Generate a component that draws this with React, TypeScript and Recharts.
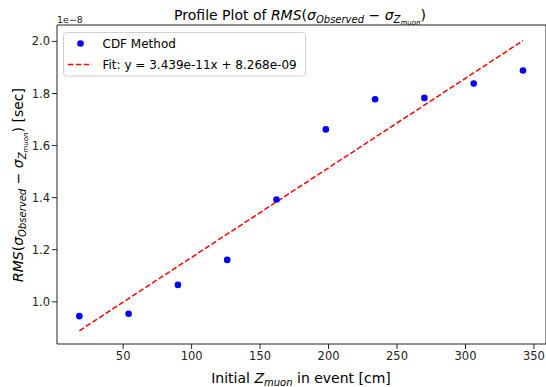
import React from 'react';
import {
  ComposedChart,
  Scatter,
  Line,
  XAxis,
  YAxis,
  ReferenceArea,
} from 'recharts';

// Profile bins along the initial muon Z position [cm]
const zPositions = [18, 54, 90, 126, 162, 198, 234, 270, 306, 342];
// RMS of the timing residual per bin, in units of 1e-8 s
const rmsValues = [0.945, 0.954, 1.065, 1.161, 1.393, 1.662, 1.778, 1.783, 1.838, 1.888];

// Linear fit result (seconds per cm, seconds)
const fitSlope = 3.439e-11;
const fitIntercept = 8.268e-9;

const xTicks = [50, 100, 150, 200, 250, 300, 350];
const yTicks = [1.0, 1.2, 1.4, 1.6, 1.8, 2.0];

const SCALE = 1e-8;
const X_DOMAIN: [number, number] = [1.7, 358.8];
const Y_DOMAIN: [number, number] = [0.838, 2.063];

const FONT = '"DejaVu Sans", sans-serif';
const INK = '#222';

// python-style exponent: 8.268e-09
const sci = (v: number) =>
  v.toExponential(3).replace(/e([+-])(\d)$/, 'e$10$2');

const points = zPositions.map((x, i) => ({ x, y: rmsValues[i] }));
const fitY = (x: number) => (fitSlope * x + fitIntercept) / SCALE;
const fitLine = [zPositions[0], zPositions[zPositions.length - 1]].map((x) => ({ x, y: fitY(x) }));

const scatterName = 'CDF Method';
const fitName = `Fit: y = ${sci(fitSlope)}x + ${sci(fitIntercept)}`;

const Dot = (props: any) => <circle cx={props.cx} cy={props.cy} r={3.3} fill="#0000ff" />;

export default function App() {
  return (
    <div style={{ position: 'absolute', left: 0, top: 0, width: 546, height: 387, background: '#fff' }}>
      <ComposedChart width={546} height={387} margin={{ top: 25, right: 0, bottom: 0, left: 0 }}>
        <XAxis
          type="number"
          dataKey="x"
          domain={X_DOMAIN}
          allowDataOverflow
          ticks={xTicks}
          height={43}
          tickSize={5}
          tickMargin={3}
          axisLine={false}
          tickLine={{ stroke: INK }}
          tick={{ fill: INK, fontSize: 11.5, fontFamily: FONT }}
        />
        <YAxis
          type="number"
          dataKey="y"
          domain={Y_DOMAIN}
          allowDataOverflow
          ticks={yTicks}
          width={57}
          tickSize={5}
          tickMargin={2}
          axisLine={false}
          tickLine={{ stroke: INK }}
          tickFormatter={(v: number) => v.toFixed(1)}
          tick={{ fill: INK, fontSize: 11.5, fontFamily: FONT }}
        />
        <ReferenceArea
          x1={X_DOMAIN[0]}
          x2={X_DOMAIN[1]}
          y1={Y_DOMAIN[0]}
          y2={Y_DOMAIN[1]}
          fill="none"
          stroke={INK}
          strokeWidth={1}
          fillOpacity={0}
          strokeOpacity={1}
        />
        <Line
          data={fitLine}
          dataKey="y"
          type="linear"
          stroke="#ff0000"
          strokeWidth={1.5}
          strokeDasharray="5.5 2.4"
          dot={false}
          activeDot={false}
          isAnimationActive={false}
        />
        <Scatter data={points} dataKey="y" shape={Dot} isAnimationActive={false} />

        {/* title */}
        <text x={300} y={19.5} textAnchor="middle" fontSize={14} fontFamily={FONT} fill="#000">
          {'Profile Plot of '}
          <tspan fontStyle="italic">RMS</tspan>
          {'('}
          <tspan fontStyle="italic">σ</tspan>
          <tspan fontStyle="italic" fontSize={10} dy={3}>Observed</tspan>
          <tspan dy={-3}>{' − '}</tspan>
          <tspan fontStyle="italic">σ</tspan>
          <tspan fontStyle="italic" fontSize={10} dy={3}>Z</tspan>
          <tspan fontStyle="italic" fontSize={7} dy={2}>muon</tspan>
          <tspan dy={-5}>)</tspan>
        </text>

        {/* offset text */}
        <text x={57} y={22.5} fontSize={9.5} fontFamily={FONT} fill={INK}>1e−8</text>

        {/* x label */}
        <text x={301} y={382.5} textAnchor="middle" fontSize={14} fontFamily={FONT} fill="#000">
          {'Initial '}
          <tspan fontStyle="italic">Z</tspan>
          <tspan fontStyle="italic" fontSize={10} dy={3}>muon</tspan>
          <tspan dy={-3}>{' in event [cm]'}</tspan>
        </text>

        {/* y label */}
        <text transform="translate(23,185) rotate(-90)" textAnchor="middle" fontSize={14} fontFamily={FONT} fill="#000">
          <tspan fontStyle="italic">RMS</tspan>
          {'('}
          <tspan fontStyle="italic">σ</tspan>
          <tspan fontStyle="italic" fontSize={10} dy={3}>Observed</tspan>
          <tspan dy={-3}>{' − '}</tspan>
          <tspan fontStyle="italic">σ</tspan>
          <tspan fontStyle="italic" fontSize={10} dy={3}>Z</tspan>
          <tspan fontStyle="italic" fontSize={7} dy={2}>muon</tspan>
          <tspan dy={-5}>{') [sec]'}</tspan>
        </text>

        {/* legend */}
        <g fontFamily={FONT} fontSize={12} fill="#000">
          <rect x={63.5} y={32.5} width={242} height={43.5} rx={3} fill="#fff" fillOpacity={0.8} stroke="#d0d0d0" />
          <circle cx={80.5} cy={43.5} r={3.3} fill="#0000ff" />
          <text x={102.5} y={47.8}>{scatterName}</text>
          <line x1={68} x2={92} y1={64.5} y2={64.5} stroke="#ff0000" strokeWidth={1.5} strokeDasharray="5.5 2.4" />
          <text x={102.5} y={68.8}>{fitName}</text>
        </g>
      </ComposedChart>
    </div>
  );
}
